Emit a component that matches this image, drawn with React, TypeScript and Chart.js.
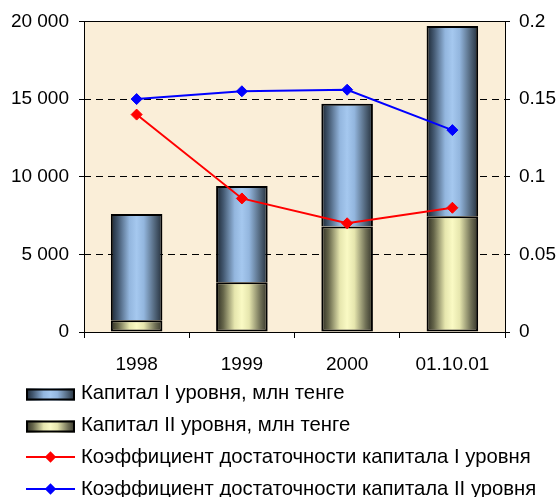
import { useEffect, useRef } from 'react';
import { Chart, registerables } from 'chart.js';

Chart.register(...registerables);

const categories = ['1998', '1999', '2000', '01.10.01'];
const capitalTier2 = [750, 3200, 6800, 7450];
const capitalTier1 = [6850, 6200, 7900, 12250];
const ratioTier1 = [0.14, 0.086, 0.07, 0.08];
const ratioTier2 = [0.15, 0.155, 0.156, 0.13];
const leftTicks = [0, 5000, 10000, 15000, 20000];
const rightTicks = [0, 0.05, 0.1, 0.15, 0.2];
const seriesLabels = [
  'Капитал I уровня, млн тенге',
  'Капитал II уровня, млн тенге',
  'Коэффициент достаточности капитала I уровня',
  'Коэффициент достаточности капитала II уровня',
];

const FONT_FAMILY = '"Liberation Sans", Arial, sans-serif';
const FONT_SIZE = 19;
const LEGEND_FONT_SIZE = 20.3;
const BAR_PCT = 0.49;
const BLUE_STOPS: [number, string][] = [
  [0, '#1a2531'],
  [0.14, '#435870'],
  [0.36, '#93b6de'],
  [0.5, '#a5c8ef'],
  [0.64, '#93b6de'],
  [0.86, '#4f6378'],
  [1, '#232e3a'],
];
const YELLOW_STOPS: [number, string][] = [
  [0, '#2c2c22'],
  [0.14, '#66664a'],
  [0.36, '#e6e6ae'],
  [0.5, '#fafac4'],
  [0.64, '#e6e6ae'],
  [0.86, '#707056'],
  [1, '#323228'],
];
const PLOT_BG = '#FAEED8';

function gradient(ctx: CanvasRenderingContext2D, x0: number, x1: number, stops: [number, string][]) {
  const g = ctx.createLinearGradient(x0, 0, x1, 0);
  stops.forEach(([o, c]) => g.addColorStop(o, c));
  return g;
}

function barFill(stops: [number, string][], fallback: string) {
  return (c: any) => {
    const chart = c.chart;
    const xs = chart.scales && chart.scales.x;
    if (!xs || !chart.chartArea || c.dataIndex === undefined) return fallback;
    const cx = xs.getPixelForValue(c.dataIndex);
    const w = (xs.width / categories.length) * BAR_PCT;
    return gradient(chart.ctx, cx - w / 2, cx + w / 2, stops);
  };
}

function fmtThousands(v: number) {
  return String(Math.round(v)).replace(/\B(?=(\d{3})+(?!\d))/g, ' ');
}

const plotPlugin = {
  id: 'plotDecor',
  beforeDraw(chart: any) {
    const { ctx, chartArea: a } = chart;
    ctx.save();
    ctx.fillStyle = PLOT_BG;
    ctx.fillRect(a.left, a.top, a.right - a.left, a.bottom - a.top);
    ctx.restore();
  },
  afterDraw(chart: any) {
    const { ctx, chartArea: a } = chart;
    ctx.save();
    ctx.strokeStyle = '#000';
    ctx.lineWidth = 1;
    ctx.strokeRect(Math.round(a.left) + 0.5, Math.round(a.top) + 0.5, Math.round(a.right - a.left), Math.round(a.bottom - a.top));
    ctx.restore();

    // legend
    const sx0 = 26;
    const sx1 = 75;
    const textX = 81;
    const rowY = (i: number) => 393 + i * 32;
    ctx.save();
    ctx.font = `${LEGEND_FONT_SIZE}px ${FONT_FAMILY}`;
    ctx.textBaseline = 'middle';
    ctx.textAlign = 'left';
    const kinds = [
      { type: 'bar', stops: BLUE_STOPS },
      { type: 'bar', stops: YELLOW_STOPS },
      { type: 'line', color: '#FF0000' },
      { type: 'line', color: '#0000FF' },
    ];
    kinds.forEach((k: any, i) => {
      const y = rowY(i);
      if (k.type === 'bar') {
        const h = 12;
        const top = y + 1.5 - h / 2;
        ctx.fillStyle = gradient(ctx, sx0, sx1, k.stops);
        ctx.fillRect(sx0, top, sx1 - sx0, h);
        ctx.strokeStyle = '#000';
        ctx.lineWidth = 2;
        ctx.strokeRect(sx0 + 1, top + 1, sx1 - sx0 - 2, h - 2);
      } else {
        ctx.strokeStyle = k.color;
        ctx.lineWidth = 2;
        ctx.beginPath();
        ctx.moveTo(sx0, y);
        ctx.lineTo(sx1, y);
        ctx.stroke();
        const cx = (sx0 + sx1) / 2;
        const r = 5.7;
        ctx.fillStyle = k.color;
        ctx.beginPath();
        ctx.moveTo(cx, y - r);
        ctx.lineTo(cx + r, y);
        ctx.lineTo(cx, y + r);
        ctx.lineTo(cx - r, y);
        ctx.closePath();
        ctx.fill();
      }
      ctx.fillStyle = '#000';
      ctx.fillText(seriesLabels[i], textX, y);
    });
    ctx.restore();
  },
};

export default function App() {
  const ref = useRef<HTMLCanvasElement | null>(null);

  useEffect(() => {
    document.body.style.margin = '0';
    const canvas = ref.current;
    if (!canvas) return;
    const font = { family: FONT_FAMILY, size: FONT_SIZE };
    const chart = new Chart(canvas, {
      type: 'bar',
      data: {
        labels: categories,
        datasets: [
          {
            type: 'bar',
            label: seriesLabels[1],
            data: capitalTier2,
            yAxisID: 'y',
            backgroundColor: barFill(YELLOW_STOPS, '#fafac4'),
            borderColor: '#000',
            borderWidth: 2,
            borderSkipped: false,
            categoryPercentage: 1,
            barPercentage: BAR_PCT,
            order: 1,
          } as any,
          {
            type: 'bar',
            label: seriesLabels[0],
            data: capitalTier1,
            yAxisID: 'y',
            backgroundColor: barFill(BLUE_STOPS, '#a5c8ef'),
            borderColor: '#000',
            borderWidth: 2,
            borderSkipped: 'start',
            categoryPercentage: 1,
            barPercentage: BAR_PCT,
            order: 1,
          } as any,
          {
            type: 'line',
            label: seriesLabels[2],
            data: ratioTier1,
            yAxisID: 'y1',
            borderColor: '#FF0000',
            backgroundColor: '#FF0000',
            borderWidth: 2,
            pointStyle: 'rectRot',
            pointRadius: 5.5,
            pointBorderWidth: 1,
            pointBackgroundColor: '#FF0000',
            pointBorderColor: '#FF0000',
            tension: 0,
            fill: false,
            order: 0,
          } as any,
          {
            type: 'line',
            label: seriesLabels[3],
            data: ratioTier2,
            yAxisID: 'y1',
            borderColor: '#0000FF',
            backgroundColor: '#0000FF',
            borderWidth: 2,
            pointStyle: 'rectRot',
            pointRadius: 5.5,
            pointBorderWidth: 1,
            pointBackgroundColor: '#0000FF',
            pointBorderColor: '#0000FF',
            tension: 0,
            fill: false,
            order: 0,
          } as any,
        ],
      },
      options: {
        responsive: false,
        maintainAspectRatio: false,
        animation: false,
        layout: { padding: { left: 0, right: 0, top: 13, bottom: 111 } },
        plugins: {
          legend: { display: false },
          tooltip: { enabled: false },
          title: { display: false },
        },
        scales: {
          x: {
            stacked: true,
            offset: true,
            grid: {
              offset: true,
              drawOnChartArea: false,
              drawTicks: true,
              tickLength: 6,
              tickColor: '#000',
              color: '#000',
            },
            border: { display: false },
            afterFit: (scale: any) => {
              scale.height = 54;
            },
            ticks: { color: '#000', font, padding: 15, maxRotation: 0 },
          },
          y: {
            type: 'linear',
            position: 'left',
            stacked: true,
            min: 0,
            max: 20000,
            afterBuildTicks: (scale: any) => {
              scale.ticks = leftTicks.map((v) => ({ value: v }));
            },
            afterFit: (scale: any) => {
              scale.width = 84;
            },
            grid: {
              color: (c: any) =>
                c.tick && (c.tick.value === leftTicks[0] || c.tick.value === leftTicks[leftTicks.length - 1])
                  ? 'rgba(0,0,0,0)'
                  : '#000',
              lineWidth: 1,
              tickColor: '#000',
              tickLength: 5,
              drawTicks: true,
            },
            border: { display: false, dash: [7, 5] },
            ticks: {
              color: '#000',
              font,
              padding: 10,
              callback: (v: any) => fmtThousands(Number(v)),
            },
          },
          y1: {
            type: 'linear',
            position: 'right',
            stacked: false,
            min: 0,
            max: 0.2,
            afterBuildTicks: (scale: any) => {
              scale.ticks = rightTicks.map((v) => ({ value: v }));
            },
            afterFit: (scale: any) => {
              scale.width = 53;
            },
            grid: {
              drawOnChartArea: false,
              tickColor: '#000',
              tickLength: 5,
              drawTicks: true,
            },
            border: { display: false },
            ticks: {
              color: '#000',
              font,
              padding: 9,
              callback: (v: any) => String(Number(Number(v).toFixed(3))),
            },
          },
        },
      } as any,
      plugins: [plotPlugin],
    });
    return () => chart.destroy();
  }, []);

  return (
    <div style={{ width: 558, height: 497, background: '#fff' }}>
      <canvas ref={ref} width={558} height={497} style={{ display: 'block' }} />
    </div>
  );
}
